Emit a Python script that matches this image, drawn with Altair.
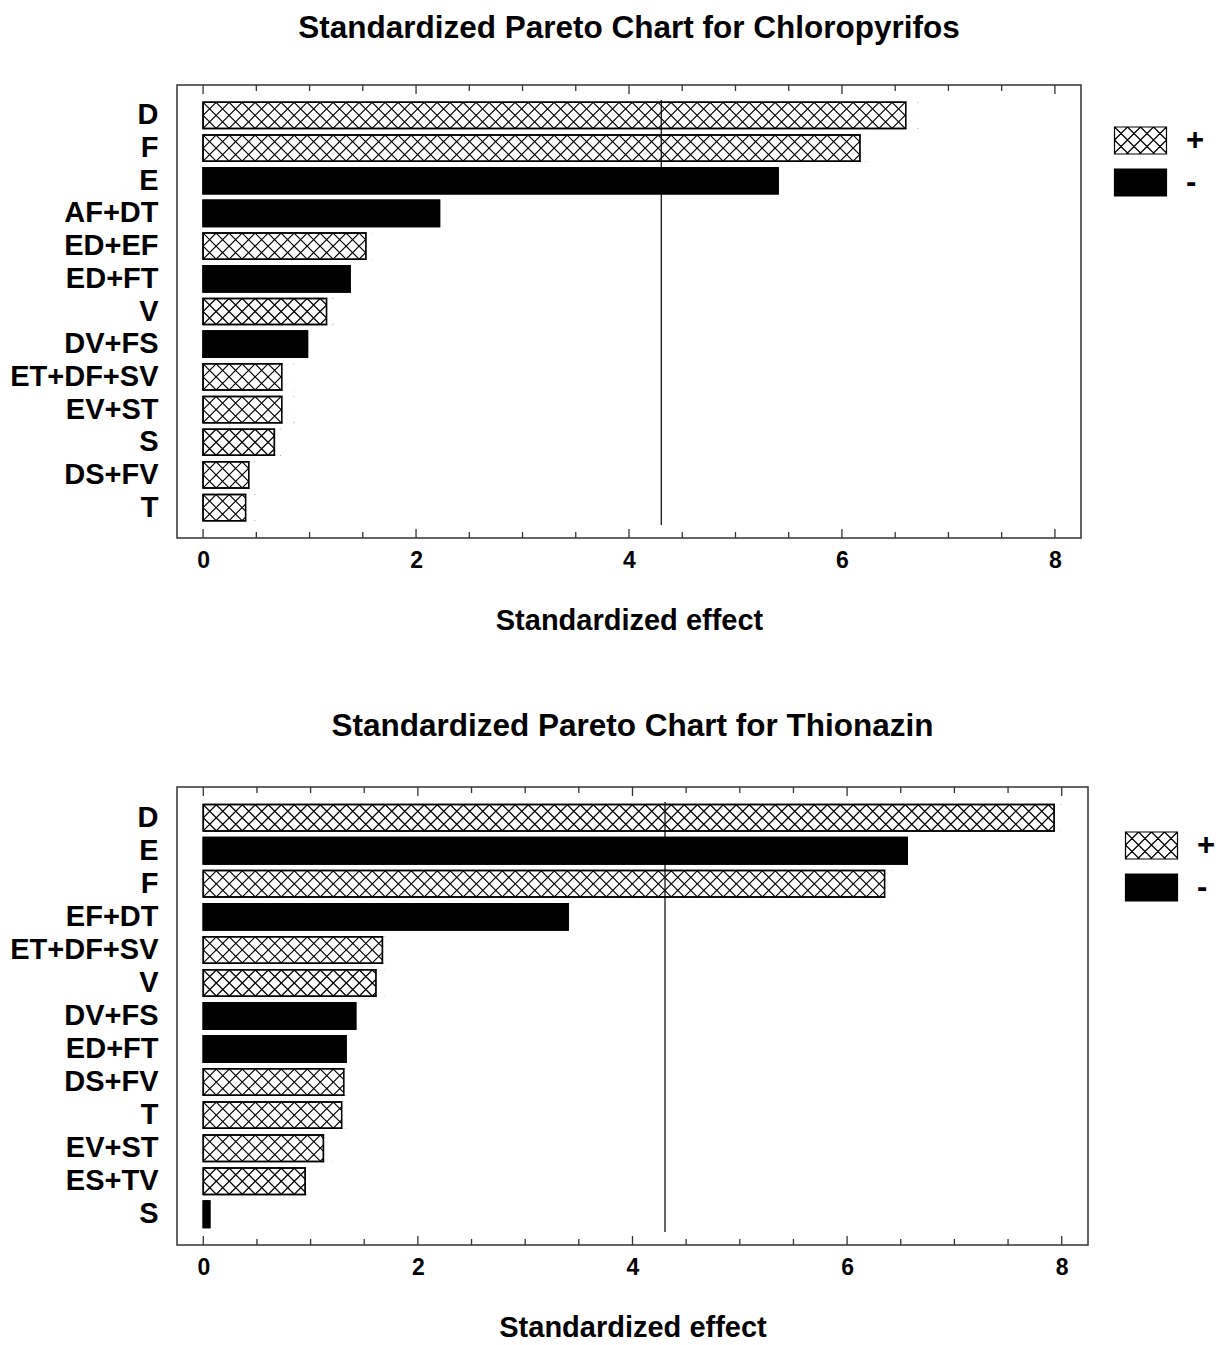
import math

import altair as alt
import numpy as np
import pandas as pd

# --- Chloropyrifos: ranked terms, |standardized effect| and sign of effect ---
CHL_TERMS = ["D", "F", "E", "AF+DT", "ED+EF", "ED+FT", "V", "DV+FS",
             "ET+DF+SV", "EV+ST", "S", "DS+FV", "T"]
CHL_EFFECTS = [6.60, 6.17, 5.40, 2.22, 1.53, 1.38, 1.16, 0.98,
               0.74, 0.74, 0.67, 0.43, 0.40]
CHL_SIGNS = ["+", "+", "-", "-", "+", "-", "+", "-", "+", "+", "+", "+", "+"]

# --- Thionazin ---
THI_TERMS = ["D", "E", "F", "EF+DT", "ET+DF+SV", "V", "DV+FS", "ED+FT",
             "DS+FV", "T", "EV+ST", "ES+TV", "S"]
THI_EFFECTS = [7.93, 6.56, 6.35, 3.40, 1.67, 1.61, 1.42, 1.33,
               1.31, 1.29, 1.12, 0.95, 0.06]
THI_SIGNS = ["+", "-", "+", "-", "+", "+", "-", "-", "+", "+", "+", "+", "-"]

# critical t value drawn as the vertical reference line
T_CRIT = 4.303

MAJOR_TICKS = [0, 2, 4, 6, 8]
MINOR_TICKS = [0.5, 1, 1.5, 2.5, 3, 3.5, 4.5, 5, 5.5, 6.5, 7, 7.5]

FONT = "Liberation Sans"
X_DOMAIN = [-0.245, 8.245]
HATCH = 13          # crosshatch period in pixels
FRAME = "#333333"


def clip_segment(x0, y0, x1, y1, left, right, top, bottom):
    """Liang-Barsky clipping of a segment to a rectangle."""
    dx, dy = x1 - x0, y1 - y0
    t0, t1 = 0.0, 1.0
    for p, q in ((-dx, x0 - left), (dx, right - x0), (-dy, y0 - top), (dy, bottom - y0)):
        if p == 0:
            if q < 0:
                return None
        else:
            t = q / p
            if p < 0:
                t0 = max(t0, t)
            else:
                t1 = min(t1, t)
    if t0 >= t1 - 1e-9:
        return None
    return x0 + t0 * dx, y0 + t0 * dy, x0 + t1 * dx, y0 + t1 * dy


def hatched_box_path(w, h, r, period):
    """SVG path (in symbol units) of a w x h box filled with a diagonal lattice."""
    L, R, T, B = -w / 2, w / 2, -h / 2, h / 2
    f = lambda v: f"{v / r:.3f}"
    parts = [f"M{f(L)},{f(T)}L{f(R)},{f(T)}L{f(R)},{f(B)}L{f(L)},{f(B)}Z"]
    n = int(w / period) + 4
    for k in range(-n, 2 * n):
        xs = L + k * period
        for sgn in (1, -1):
            seg = clip_segment(xs, T, xs + sgn * (B - T), B, L, R, T, B)
            if seg:
                a, b, c, d = seg
                parts.append(f"M{f(a)},{f(b)}L{f(c)},{f(d)}")
    return "".join(parts)


LEGEND_R = 20.5
LEGEND_PATH = hatched_box_path(52, 27, LEGEND_R, HATCH)
X_MARK = "M-1,-1L1,1M-1,1L1,-1"


def pareto_panel(title, terms, effects, signs, width, height, title_offset,
                 legend_gap, legend_top):
    step = HATCH * (X_DOMAIN[1] - X_DOMAIN[0]) / width

    bars = pd.DataFrame({"term": terms, "effect": effects, "sign": signs})
    bars["zero"] = 0.0
    pos = bars[bars["sign"] == "+"].copy()
    pos["mask_end"] = pos["effect"] + step

    rows = []
    for term, val in zip(pos["term"], pos["effect"]):
        for k in range(int(math.ceil(val / step))):
            rows.append({"term": term, "hx": (k + 0.5) * step})
    hatch = pd.DataFrame(rows)

    x_scale = alt.Scale(domain=X_DOMAIN, nice=False, zero=False)
    y_scale = alt.Scale(paddingInner=0.2, paddingOuter=0.53)
    x_axis = alt.Axis(values=MAJOR_TICKS, format="d", ticks=False, domain=False,
                      grid=False, labelFont=FONT, labelFontSize=23,
                      labelFontWeight="bold", labelColor="black",
                      labelPadding=11, labelFlush=False, labelOverlap=False,
                      title="Standardized effect", titleFont=FONT,
                      titleFontSize=29, titleFontWeight="bold",
                      titleColor="black", titlePadding=34)
    y_axis = alt.Axis(title=None, ticks=False, domain=False, grid=False,
                      labelFont=FONT, labelFontSize=29, labelFontWeight="bold",
                      labelColor="black", labelPadding=19)

    def xq(field):
        return alt.X(f"{field}:Q", scale=x_scale, axis=x_axis)

    y_enc = alt.Y("term:N", sort=terms, scale=y_scale, axis=y_axis)

    legend = alt.Legend(
        title=None, orient="none", legendX=width + legend_gap, legendY=legend_top,
        symbolType=LEGEND_PATH, symbolSize=int((2 * LEGEND_R) ** 2),
        symbolStrokeColor="black", symbolStrokeWidth=1.2, symbolOpacity=1,
        labelFont=FONT, labelFontSize=31, labelFontWeight="bold",
        labelColor="black", labelOffset=24, rowPadding=4, padding=0,
    )

    fill_layer = alt.Chart(bars).mark_bar(stroke="black", strokeWidth=1.5).encode(
        x=xq("effect"), x2="zero:Q", y=y_enc,
        fill=alt.Fill("sign:N", scale=alt.Scale(domain=["+", "-"], range=["white", "black"]),
                      legend=legend),
    )

    hatch_layers = [
        alt.Chart(hatch).mark_point(shape=X_MARK, size=HATCH * HATCH, filled=False,
                                    color="black", strokeWidth=1.2, opacity=1,
                                    yOffset=dy).encode(x=xq("hx"), y=y_enc)
        for dy in (-HATCH / 2, HATCH / 2)
    ]

    mask = alt.Chart(pos).mark_bar(fill="white", strokeWidth=0).encode(
        x=xq("effect"), x2="mask_end:Q", y=y_enc)

    outline = alt.Chart(bars).mark_bar(fillOpacity=0, stroke="black", strokeWidth=1.5).encode(
        x=xq("effect"), x2="zero:Q", y=y_enc)

    crit = alt.Chart(pd.DataFrame({"t": [T_CRIT]})).mark_rule(color="black", strokeWidth=1.2).encode(
        x=xq("t"), y=alt.value(15), y2=alt.value(height - 13))

    tick_layers = []
    for vals, length in ((MAJOR_TICKS, 9), (MINOR_TICKS, 6)):
        src = pd.DataFrame({"t": vals})
        tick_layers.append(alt.Chart(src).mark_rule(color=FRAME, strokeWidth=1.3).encode(
            x=xq("t"), y=alt.value(height), y2=alt.value(height - length)))
        tick_layers.append(alt.Chart(src).mark_rule(color=FRAME, strokeWidth=1.3).encode(
            x=xq("t"), y=alt.value(0), y2=alt.value(length)))

    return alt.layer(fill_layer, *hatch_layers, mask, outline, crit, *tick_layers).properties(
        width=width, height=height,
        title=alt.TitleParams(text=title, font=FONT, fontSize=31.5, fontWeight="bold",
                              color="black", anchor="middle", frame="group",
                              offset=title_offset),
    )


top = pareto_panel("Standardized Pareto Chart for Chloropyrifos",
                   CHL_TERMS, CHL_EFFECTS, CHL_SIGNS, 904, 453, 40, 38, 34)
bottom = pareto_panel("Standardized Pareto Chart for Thionazin",
                      THI_TERMS, THI_EFFECTS, THI_SIGNS, 911, 458, 44, 42, 37)

chart = (
    alt.vconcat(top, bottom, spacing=74)
    .resolve_scale(x="independent", y="independent", fill="independent")
    .resolve_legend(fill="independent")
    .properties(padding={"left": 8, "top": 12, "right": 5, "bottom": 5}, background="white")
    .configure_view(stroke=FRAME, strokeWidth=1.5)
)

chart.save("out.html", embed_options={"renderer": "svg", "actions": False})
